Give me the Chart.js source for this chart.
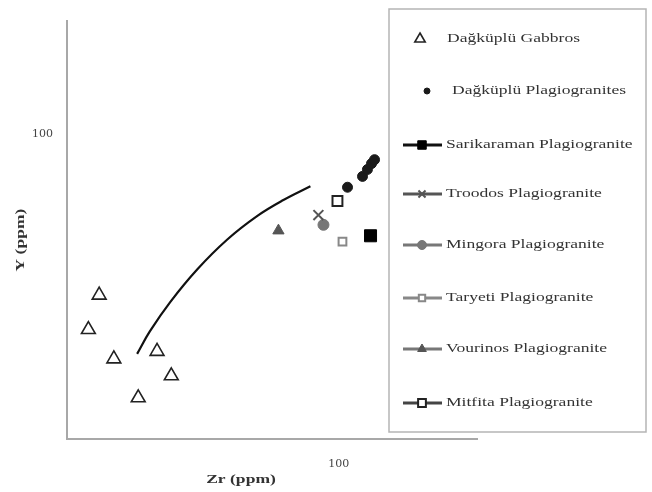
<!DOCTYPE html>
<html>
<head>
<meta charset="utf-8">
<script src="https://cdn.jsdelivr.net/npm/chart.js@4"></script>
<style>
html,body{margin:0;padding:0;background:#fff;}
#wrap{position:relative;width:652px;height:492px;}
</style>
</head>
<body>
<div id="wrap"><canvas id="c" width="652" height="492"></canvas></div>
<script>
// ---- data (Zr ppm, Y ppm) ----
const seriesNames = [
  "Dağküplü Gabbros",
  "Dağküplü Plagiogranites",
  "Sarikaraman Plagiogranite",
  "Troodos Plagiogranite",
  "Mingora Plagiogranite",
  "Taryeti Plagiogranite",
  "Vourinos Plagiogranite",
  "Mitfita Plagiogranite"
];
const gabbroZr = [24.2, 22.7, 26.4, 34.1, 37.1, 30.5];
const gabbroY  = [38.0, 30.9, 25.9, 27.1, 23.4, 20.5];
const dagPlagZr = [105.4, 115.2, 118.6, 121.5, 123.7];
const dagPlagY  = [72.7, 77.6, 80.9, 83.8, 85.8];
const sarikaramanZr = [120.8];
const sarikaramanY  = [54.3];
const troodosZr = [88.7];
const troodosY  = [61.5];
const mingoraZr = [91.4];
const mingoraY  = [58.0];
const taryetiZr = [102.3];
const taryetiY  = [52.4];
const vourinosZr = [70.0];
const vourinosY  = [56.0];
const mitfitaZr = [99.3];
const mitfitaY  = [66.9];
const curveZr = [30.3, 32.7, 36.9, 43.3, 51.7, 61.8, 72.1, 84.6];
const curveY  = [26.7, 30.6, 36.5, 44.4, 53.1, 61.2, 67.3, 73.1];
const xTickValues = [100];
const yTickValues = [100];
const xTitle = "Zr (ppm)";
const yTitle = "Y (ppm)";

function pts(xs, ys){ return xs.map((x,i)=>({x:x, y:ys[i]})); }

const styles = [
  {pointStyle:'triangle', radius:8, bg:'#fff', border:'#222', bw:1.6, line:null, lr:6, lx:420, tx:447},
  {pointStyle:'circle', radius:5, bg:'#1a1a1a', border:'#1a1a1a', bw:1, line:null, lr:3, lx:427, tx:452},
  {pointStyle:'rect', radius:8.5, bg:'#000', border:'#000', bw:1, line:'#111', lr:6, lx:422, tx:446},
  {pointStyle:'crossRot', radius:7, bg:'#555', border:'#555', bw:2, line:'#555', lr:5, lx:422, tx:446},
  {pointStyle:'circle', radius:5.5, bg:'#777', border:'#777', bw:1, line:'#777', lr:4.5, lx:422, tx:446},
  {pointStyle:'rect', radius:5.5, bg:'#fff', border:'#888', bw:2, line:'#888', lr:4.5, lx:422, tx:446},
  {pointStyle:'triangle', radius:6.5, bg:'#555', border:'#555', bw:1, line:'#777', lr:5, lx:422, tx:446},
  {pointStyle:'rect', radius:7, bg:'#fff', border:'#222', bw:2, line:'#444', lr:5.5, lx:422, tx:446}
];
const seriesData = [
  pts(gabbroZr, gabbroY), pts(dagPlagZr, dagPlagY), pts(sarikaramanZr, sarikaramanY),
  pts(troodosZr, troodosY), pts(mingoraZr, mingoraY), pts(taryetiZr, taryetiY),
  pts(vourinosZr, vourinosY), pts(mitfitaZr, mitfitaY)
];

const datasets = seriesNames.map((n,i)=>({
  label:n, data:seriesData[i], showLine:false,
  pointStyle:styles[i].pointStyle, pointRadius:styles[i].radius, pointHoverRadius:styles[i].radius,
  backgroundColor:styles[i].bg, borderColor:styles[i].border, pointBorderWidth:styles[i].bw
}));
datasets.push({label:'trend', data:pts(curveZr, curveY), showLine:true, pointRadius:0,
  borderColor:'#111', borderWidth:2.2, tension:0.4, fill:false});

const legendRows = [39, 91, 145, 194, 245, 298, 349, 403];
const STRETCH = 1.35;

function stretchedText(ctx, text, x, y, align){
  ctx.save();
  ctx.translate(x, y);
  ctx.scale(STRETCH, 1);
  ctx.textAlign = align; ctx.textBaseline = 'middle';
  ctx.fillText(text, 0, 0);
  ctx.restore();
}

const decor = {
  id:'decor',
  afterDraw(chart){
    const ctx = chart.ctx;
    ctx.save();
    // axis titles
    ctx.fillStyle = '#333';
    ctx.font = 'bold 13px "Liberation Serif", serif';
    stretchedText(ctx, xTitle, 241, 480, 'center');
    ctx.save();
    ctx.translate(21, 240); ctx.rotate(-Math.PI/2);
    stretchedText(ctx, yTitle, 0, 0, 'center');
    ctx.restore();
    // legend box
    ctx.fillStyle = '#fff';
    ctx.fillRect(389, 9, 257, 423);
    ctx.strokeStyle = '#b5b5b5'; ctx.lineWidth = 1.5;
    ctx.strokeRect(389, 9, 257, 423);
    seriesNames.forEach((n,i)=>{
      const s = styles[i], y = legendRows[i];
      if (s.line){
        ctx.strokeStyle = s.line; ctx.lineWidth = 3;
        ctx.beginPath(); ctx.moveTo(403, y); ctx.lineTo(442, y); ctx.stroke();
      }
      ctx.fillStyle = s.bg; ctx.strokeStyle = s.border; ctx.lineWidth = s.bw;
      Chart.helpers.drawPoint(ctx, {pointStyle:s.pointStyle, radius:s.lr, borderWidth:s.bw, rotation:0}, s.lx, y);
      ctx.fillStyle = '#333';
      ctx.font = '13px "Liberation Serif", serif';
      stretchedText(ctx, n, s.tx, y, 'left');
    });
    ctx.restore();
  }
};

new Chart(document.getElementById('c'), {
  type:'scatter',
  data:{datasets:datasets},
  options:{
    responsive:false, animation:false,
    layout:{padding:{top:15, right:175, left:0, bottom:0}},
    plugins:{legend:{display:false}, tooltip:{enabled:false}},
    scales:{
      x:{type:'logarithmic', min:20, max:227,
        grid:{display:false, drawTicks:false},
        border:{display:true, color:'#a8a8a8', width:2},
        afterBuildTicks:(s)=>{ s.ticks = xTickValues.map(v=>({value:v})); },
        afterFit:(s)=>{ s.height = 53; },
        ticks:{padding:19, color:'#444', font:{family:'"DejaVu Serif", serif', size:11}, callback:(v)=>String(v)}
      },
      y:{type:'logarithmic', min:16, max:198,
        grid:{display:false, drawTicks:false},
        border:{display:true, color:'#a8a8a8', width:2},
        afterBuildTicks:(s)=>{ s.ticks = yTickValues.map(v=>({value:v})); },
        afterFit:(s)=>{ s.width = 67; },
        ticks:{padding:14, color:'#444', font:{family:'"DejaVu Serif", serif', size:11}, callback:(v)=>String(v)}
      }
    }
  },
  plugins:[decor]
});
</script>
</body>
</html>
